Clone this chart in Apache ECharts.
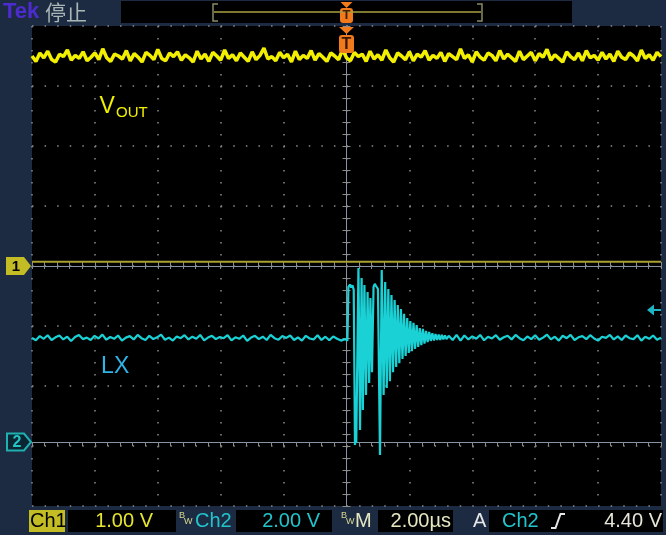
<!DOCTYPE html>
<html><head><meta charset="utf-8">
<script src="https://cdn.jsdelivr.net/npm/echarts/dist/echarts.min.js"></script>
<style>html,body{margin:0;padding:0;background:#1c2b42;} #c{width:666px;height:535px;}</style>
</head><body><div id="c"></div>
<script>
// ---- data (time in µs, volts) ----
const timeMin = -10, timeMax = 10, timeDiv = 2;           // 2.00 µs/div
const ch1Min = -4, ch1Max = 4;                              // 1.00 V/div, ground at centre
const ch2Min = -2.133, ch2Max = 13.867;                     // 2.00 V/div
const ch1Ground = 0, ch2Ground = 0, triggerLevel = 4.40, triggerTime = 0;
const ch1RefLevel = 0.07;

const voutStart = -10, voutEnd = 10;
const vout = [3.50,3.41,3.55,3.47,3.58,3.44,3.40,3.53,3.49,3.60,3.43,3.51,3.46,3.57,3.42,3.48,3.55,3.44,3.62,3.47,
3.41,3.53,3.50,3.45,3.59,3.42,3.54,3.48,3.40,3.56,3.51,3.44,3.61,3.46,3.42,3.55,3.49,3.57,3.43,3.52,
3.47,3.40,3.58,3.45,3.53,3.41,3.56,3.50,3.43,3.60,3.46,3.52,3.42,3.55,3.48,3.41,3.57,3.44,3.51,3.63,
3.45,3.49,3.42,3.56,3.47,3.53,3.40,3.58,3.44,3.51,3.46,3.59,3.43,3.54,3.48,3.41,3.55,3.50,3.44,3.61,
3.47,3.42,3.56,3.49,3.53,3.41,3.58,3.45,3.52,3.43,3.60,3.47,3.40,3.55,3.50,3.44,3.57,3.42,3.53,3.48,
3.59,3.43,3.51,3.46,3.56,3.41,3.54,3.49,3.44,3.62,3.46,3.52,3.40,3.57,3.48,3.43,3.55,3.51,3.42,3.59,
3.45,3.53,3.47,3.41,3.58,3.44,3.50,3.56,3.42,3.54,3.48,3.61,3.43,3.52,3.46,3.40,3.57,3.49,3.44,3.55,
3.42,3.59,3.47,3.51,3.43,3.56,3.45,3.53,3.41,3.58,3.48,3.44,3.55,3.50,3.42,3.60,3.46,3.52,3.43,3.56,3.49];

const lxPreStart = -10, lxPreEnd = -0.05;
const lxPre = [3.47,3.39,3.53,3.44,3.56,3.40,3.49,3.55,3.42,3.51,3.37,3.50,3.57,3.43,3.48,3.40,3.54,3.45,3.58,3.41,
3.50,3.44,3.55,3.38,3.48,3.53,3.42,3.57,3.46,3.40,3.54,3.43,3.49,3.58,3.41,3.48,3.38,3.52,3.46,3.56,
3.42,3.51,3.44,3.57,3.39,3.48,3.54,3.43,3.50,3.46,3.56,3.39,3.49,3.44,3.55,3.37,3.48,3.54,3.43,3.51,
3.40,3.57,3.46,3.41,3.53,3.47,3.55,3.40,3.49,3.38,3.54,3.45,3.42,3.56,3.40,3.51,3.39,3.52,3.44,3.38,3.43];

const lxBurst = [[0.00,3.47],[0.03,3.38],[0.06,5.17],[0.11,5.25],[0.15,5.15],[0.19,5.22],[0.23,5.07],[0.27,-0.10],
[0.29,0.30],[0.31,-0.03],[0.38,5.80],[0.43,0.40],[0.48,5.47],[0.52,1.07],[0.57,5.23],[0.62,1.57],[0.67,5.00],
[0.72,1.97],[0.76,4.80],[0.81,2.33],[0.86,5.17],[0.90,5.27],[0.94,5.20],[1.00,5.10],[1.065,-0.43],[1.12,5.73],
[1.18,1.57],[1.23,5.33],[1.28,1.80],[1.33,5.10],[1.38,2.03],[1.43,4.90],[1.48,2.33],[1.53,4.73],[1.58,2.50],
[1.63,4.57],[1.68,2.63],[1.73,4.43],[1.78,2.77],[1.83,4.27],[1.88,2.87],[1.93,4.13],[1.98,2.97],[2.03,4.03],
[2.08,3.03],[2.13,3.97],[2.18,3.10],[2.23,3.90],[2.28,3.17],[2.33,3.80],[2.38,3.23],[2.43,3.77],[2.48,3.28],
[2.53,3.70],[2.58,3.33],[2.63,3.67],[2.68,3.37],[2.73,3.63],[2.78,3.38],[2.83,3.60],[2.88,3.40],[2.93,3.58],
[2.98,3.40],[3.03,3.57],[3.08,3.42],[3.13,3.55],[3.18,3.43]];

const lxPostStart = 3.25, lxPostEnd = 10;
const lxPost = [3.54,3.40,3.57,3.38,3.55,3.42,3.52,3.44,3.57,3.39,3.51,3.45,3.56,3.41,3.49,3.54,3.42,3.57,3.46,3.39,
3.52,3.43,3.56,3.41,3.48,3.58,3.42,3.51,3.38,3.54,3.46,3.57,3.40,3.49,3.53,3.43,3.56,3.45,3.38,3.51,
3.47,3.57,3.42,3.52,3.40,3.55,3.46,3.43,3.56,3.38,3.51,3.44,3.55,3.41,3.48];

// ---- build series data ----
function sampled(vals, t0, t1) {
  const n = vals.length;
  return vals.map((v, i) => [t0 + (t1 - t0) * i / (n - 1), v]);
}
const voutData = sampled(vout, voutStart, voutEnd);
const lxData = sampled(lxPre, lxPreStart, lxPreEnd).concat(lxBurst, sampled(lxPost, lxPostStart, lxPostEnd));

const gridCol = '#8c8c8c';
const borderCol = '#8894a6';
const none = {show:false};

function xAxisCfg(o) {
  return Object.assign({type:'value', min:timeMin, max:timeMax, interval:timeDiv, axisLabel:none,
    splitLine:none, axisLine:none, axisTick:none, minorTick:none}, o);
}
function yAxisCfg(o) {
  return Object.assign({type:'value', min:ch1Min, max:ch1Max, interval:1, axisLabel:none,
    splitLine:none, axisLine:none, axisTick:none, minorTick:none}, o);
}
const tickIn = {show:true, inside:true, length:4, lineStyle:{color:gridCol}};
const tickOut = {show:true, inside:false, length:3, lineStyle:{color:gridCol}};
const minor4 = {show:true, splitNumber:5, length:4, lineStyle:{color:gridCol}};
const minor3 = {show:true, splitNumber:5, length:3, lineStyle:{color:gridCol}};

const chart = echarts.init(document.getElementById('c'));
const option = {
  animation:false,
  backgroundColor:'#1c2b42',
  grid:{left:32, top:26, right:5, bottom:29, show:true, backgroundColor:'#000', borderWidth:0},
  xAxis:[
    xAxisCfg({position:'bottom', axisLine:{show:true, lineStyle:{color:borderCol}}, axisTick:tickIn, minorTick:minor4,
      splitLine:{show:true, lineStyle:{color:gridCol, width:1.5, type:[1.5,10.5]}}}),
    xAxisCfg({position:'top', axisLine:{show:true, lineStyle:{color:borderCol}}, axisTick:tickIn, minorTick:minor4}),
    xAxisCfg({position:'bottom', offset:-240, axisTick:{show:true, inside:true, length:3, lineStyle:{color:gridCol}}, minorTick:minor3}),
    xAxisCfg({position:'bottom', offset:-240, axisTick:tickOut, minorTick:minor3})
  ],
  yAxis:[
    yAxisCfg({position:'left', axisLine:{show:true, lineStyle:{color:borderCol}}, axisTick:tickIn, minorTick:minor4,
      splitLine:{show:true, lineStyle:{color:gridCol, width:1.5, type:[1.5,11.08]}}}),
    {type:'value', min:ch2Min, max:ch2Max, show:false},
    yAxisCfg({position:'right', axisLine:{show:true, lineStyle:{color:borderCol}}, axisTick:tickIn, minorTick:minor4}),
    yAxisCfg({position:'left', offset:-314.5, axisTick:{show:true, inside:true, length:3, lineStyle:{color:gridCol}}, minorTick:minor3}),
    yAxisCfg({position:'left', offset:-314.5, axisTick:tickOut, minorTick:minor3})
  ],
  series:[
    {type:'line', name:'ref', xAxisIndex:0, yAxisIndex:0, showSymbol:false, silent:true,
      data:[[timeMin, ch1RefLevel],[timeMax, ch1RefLevel]], lineStyle:{color:'#a8a030', width:2}},
    {type:'line', name:'VOUT', xAxisIndex:0, yAxisIndex:0, showSymbol:false, silent:true,
      data:voutData, lineStyle:{color:'#f2f000', width:3.5}},
    {type:'line', name:'LX', xAxisIndex:0, yAxisIndex:1, showSymbol:false, silent:true,
      data:lxData, lineStyle:{color:'#1ad2d6', width:2.2}}
  ]
};
chart.setOption(option);

// ---- annotations positioned through the axes ----
const y1 = chart.convertToPixel({yAxisIndex:0}, ch1Ground);
const y2 = chart.convertToPixel({yAxisIndex:1}, ch2Ground);
const yT = chart.convertToPixel({yAxisIndex:1}, triggerLevel);
const xT = chart.convertToPixel({xAxisIndex:0}, triggerTime);
const yV = chart.convertToPixel({yAxisIndex:0}, 2.43);
const yL = chart.convertToPixel({yAxisIndex:1}, 2.2);
const xLab = chart.convertToPixel({xAxisIndex:0}, -7.85);

function T(x, y, text, fill, font, align, valign) {
  return {type:'text', x:x, y:y, z:100, silent:true,
    style:{text:text, fill:fill, font:font, textAlign:align||'left', align:align||'left',
      textVerticalAlign:valign||'middle', verticalAlign:valign||'middle'}};
}
function R(x, y, w, h, fill, r) {
  return {type:'rect', z:90, silent:true, shape:{x:x, y:y, width:w, height:h, r:r||0}, style:{fill:fill}};
}
const sf = '20px "Liberation Sans", Arial, sans-serif';
const sy = 521;
const orange = '#f07a1c';
const bwFont = '9px "Liberation Sans", Arial, sans-serif';

const g = [
  // top bar
  T(3, 12, 'Tek', '#4c2ccf', 'bold 22px "Liberation Sans", Arial, sans-serif'),
  T(45, 12, '停止', '#aab6b6', '21px "Noto Sans CJK SC", sans-serif'),
  R(121, 1, 451, 22, '#000'),
  {type:'line', z:95, silent:true, shape:{x1:214, y1:12, x2:481, y2:12}, style:{stroke:'#a8a040', lineWidth:1.5}},
  {type:'polyline', z:95, silent:true, shape:{points:[[218,4],[213,4],[213,21],[218,21]]}, style:{stroke:'#8a8a66', lineWidth:1.5, fill:null}},
  {type:'polyline', z:95, silent:true, shape:{points:[[477,4],[482,4],[482,21],[477,21]]}, style:{stroke:'#8a8a66', lineWidth:1.5, fill:null}},
  {type:'polygon', z:96, silent:true, shape:{points:[[xT-6,2],[xT+6,2],[xT,8]]}, style:{fill:orange}},
  R(xT-6.5, 8, 13, 15, orange, 3),
  T(xT, 15.5, 'T', '#4a1e00', 'bold 13px "Liberation Sans", Arial, sans-serif', 'center'),
  // trigger position marker in graticule
  {type:'polygon', z:96, silent:true, shape:{points:[[xT-7.5,27],[xT+7.5,27],[xT,34]]}, style:{fill:orange}},
  R(xT-7.5, 35, 15, 18, orange, 3),
  T(xT, 44.5, 'T', '#3a1600', 'bold 16px "Liberation Sans", Arial, sans-serif', 'center'),
  // channel ground markers
  {type:'polygon', z:96, silent:true, shape:{points:[[6,y1-9],[24,y1-9],[31,y1],[24,y1+9],[6,y1+9]]}, style:{fill:'#c4bc24'}},
  T(16, y1+0.5, '1', '#000', 'bold 15px "Liberation Sans", Arial, sans-serif', 'center'),
  {type:'polygon', z:96, silent:true, shape:{points:[[7,y2-8.5],[24,y2-8.5],[31,y2],[24,y2+8.5],[7,y2+8.5]]}, style:{fill:'#0b2532', stroke:'#1fb0b0', lineWidth:2}},
  T(17, y2+0.5, '2', '#22c4c4', 'bold 16px "Liberation Sans", Arial, sans-serif', 'center'),
  // trigger level marker
  {type:'polygon', z:96, silent:true, shape:{points:[[647,yT],[654,yT-5.5],[654,yT+5.5]]}, style:{fill:'#1fb4c4'}},
  {type:'line', z:96, silent:true, shape:{x1:653, y1:yT, x2:661, y2:yT}, style:{stroke:'#1fb4c4', lineWidth:2}},
  // trace labels
  T(xLab, yV - 2, 'V', '#f0f000', '23px "Liberation Sans", Arial, sans-serif', 'left', 'bottom'),
  T(xLab + 16.5, yV + 0.5, 'OUT', '#f0f000', '15px "Liberation Sans", Arial, sans-serif', 'left', 'bottom'),
  T(xLab + 1.5, yL + 2, 'LX', '#2fb4e8', '23px "Liberation Sans", Arial, sans-serif', 'left', 'bottom'),
  // status bar
  R(29, 510, 36, 22, '#c4bc24'),
  T(30, sy, 'Ch1', '#000', sf),
  R(68, 510, 108, 22, '#000'),
  T(153, sy, '1.00 V', '#e6e630', sf, 'right'),
  T(179, sy-5, 'B', '#d8d890', bwFont),
  T(184, sy+1, 'W', '#d8d890', bwFont),
  T(195, sy, 'Ch2', '#22c4cc', sf),
  R(236, 510, 96, 22, '#000'),
  T(320, sy, '2.00 V', '#22c4cc', sf, 'right'),
  T(341, sy-5, 'B', '#d8d890', bwFont),
  T(346, sy+1, 'W', '#d8d890', bwFont),
  T(355, sy, 'M', '#e6e6c0', sf),
  R(378, 510, 75, 22, '#000'),
  T(451, sy, '2.00µs', '#e6e6c0', sf, 'right'),
  T(473, sy, 'A', '#e6e6e6', sf),
  R(489, 510, 174, 22, '#000'),
  T(502, sy, 'Ch2', '#22c4cc', sf),
  {type:'polyline', z:96, silent:true, shape:{points:[[551,528],[555.5,528],[560.5,514],[565,514]]}, style:{stroke:'#e6e6e6', lineWidth:2, fill:null}},
  T(662, sy, '4.40 V', '#e6e6d8', sf, 'right')
];
chart.setOption({graphic:g});
</script></body></html>
